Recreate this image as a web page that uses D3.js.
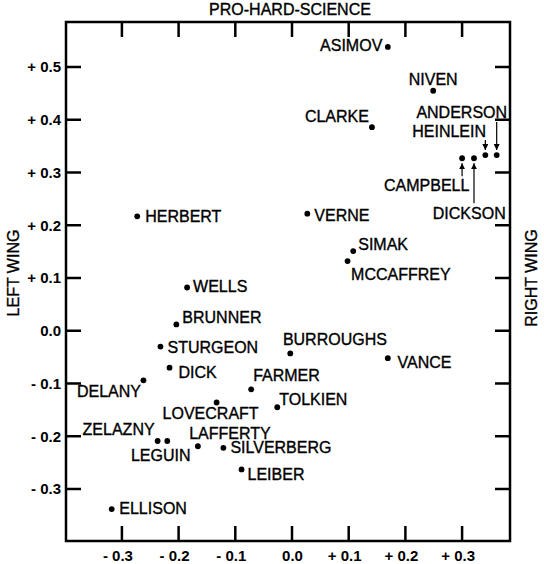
<!DOCTYPE html>
<html>
<head>
<meta charset="utf-8">
<script src="https://cdn.jsdelivr.net/npm/d3@7"></script>
<style>
   body { margin: 0; background: #fff; }
   svg { display: block; font-family: 'Liberation Sans', Arial, sans-serif; }
   .label { font-size: 16px; fill: #000; stroke: #000; stroke-width: 0.35px; }
   .tick text { font-size: 15px; font-weight: bold; fill: #000; }
</style>
</head>
<body>
<script>
   // data
   let authors = ['ASIMOV', 'NIVEN', 'CLARKE', 'ANDERSON', 'HEINLEIN', 'DICKSON', 'CAMPBELL',
                  'VERNE', 'HERBERT', 'SIMAK', 'MCCAFFREY', 'WELLS', 'BRUNNER', 'BURROUGHS',
                  'STURGEON', 'VANCE', 'DICK', 'DELANY', 'FARMER', 'LOVECRAFT', 'TOLKIEN',
                  'ZELAZNY', 'LEGUIN', 'LAFFERTY', 'SILVERBERG', 'LEIBER', 'ELLISON'];
   // left wing (-) to right wing (+)
   let politics = [0.169, 0.249, 0.141, 0.361, 0.341, 0.321, 0.300,
                   0.027, -0.273, 0.108, 0.098, -0.185, -0.204, -0.003,
                   -0.232, 0.169, -0.216, -0.262, -0.072, -0.133, -0.026,
                   -0.237, -0.220, -0.166, -0.121, -0.089, -0.318];
   // pro-hard-science axis
   let hardScience = [0.538, 0.455, 0.386, 0.333, 0.333, 0.327, 0.327,
                      0.222, 0.217, 0.151, 0.132, 0.082, 0.012, -0.043,
                      -0.030, -0.052, -0.070, -0.094, -0.111, -0.136, -0.145,
                      -0.209, -0.209, -0.219, -0.222, -0.263, -0.338];
   let xTicks = [-0.3, -0.2, -0.1, 0, 0.1, 0.2, 0.3];
   let xTickLabels = ['- 0.3', '- 0.2', '- 0.1', '0.0', '+ 0.1', '+ 0.2', '+ 0.3'];
   let yTicks = [-0.3, -0.2, -0.1, 0, 0.1, 0.2, 0.3, 0.4, 0.5];
   let yTickLabels = ['- 0.3', '- 0.2', '- 0.1', '0.0', '+ 0.1', '+ 0.2', '+ 0.3', '+ 0.4', '+ 0.5'];
   let arrowed = ['ANDERSON', 'HEINLEIN', 'DICKSON', 'CAMPBELL'];

   // label placement next to each dot: offset of text from dot, anchor
   let labelPos = {
      ASIMOV: [-5.5, 4, 'end'], NIVEN: [0, -6, 'middle'], CLARKE: [-3, -5.5, 'end'],
      ANDERSON: [10.4, -36.7, 'end'], HEINLEIN: [0.7, -18.3, 'end'],
      DICKSON: [31.7, 60.6, 'end'], CAMPBELL: [7.3, 32.3, 'end'],
      VERNE: [7, 7.7, 'start'], HERBERT: [8, 6, 'start'], SIMAK: [5, -1, 'start'],
      MCCAFFREY: [3.5, 19, 'start'], WELLS: [6, 5, 'start'], BRUNNER: [6, -1, 'start'],
      BURROUGHS: [-7.4, -8.3, 'start'], STURGEON: [7, 6, 'start'], VANCE: [9.7, 9.7, 'start'],
      DICK: [9, 10, 'start'], DELANY: [-2.5, 17, 'end'], FARMER: [2, -8.5, 'start'],
      LOVECRAFT: [-54, 17, 'start'], TOLKIEN: [2, -2.5, 'start'], ZELAZNY: [-3, -5.7, 'end'],
      LEGUIN: [-36.3, 20, 'start'], LAFFERTY: [-8.7, -7, 'start'], SILVERBERG: [7, 5.5, 'start'],
      LEIBER: [6, 10.7, 'start'], ELLISON: [7.6, 5.3, 'start']
   };
   // arrows: start and end (tip) offset in y from the dot
   let arrowPos = { ANDERSON: [-33, -5], HEINLEIN: [-15, -5], DICKSON: [45, 5], CAMPBELL: [18, 5] };

   let width = 544;
   let height = 564;
   let plotLeft = 66, plotRight = 510, plotTop = 22, plotBottom = 541;
   let tickLen = 15;

   let svg = d3.select('body').append('svg')
      .attr('width', width)
      .attr('height', height);

   let xScale = d3.scaleLinear().domain([-0.3986, 0.3845]).range([plotLeft, plotRight]);
   let yScale = d3.scaleLinear().domain([-0.3986, 0.5853]).range([plotBottom, plotTop]);

   let drawTickLabels = () => {
      let xAxis = d3.axisBottom(xScale)
         .tickValues(xTicks)
         .tickFormat((d, i) => xTickLabels[i])
         .tickSize(0).tickPadding(9);
      let yAxis = d3.axisLeft(yScale)
         .tickValues(yTicks)
         .tickFormat((d, i) => yTickLabels[i])
         .tickSize(0).tickPadding(5);

      let gx = svg.append('g').attr('transform', 'translate(0,' + plotBottom + ')').call(xAxis);
      // number part centred on the tick, sign hangs to the left
      gx.selectAll('.tick text').attr('dx', (d) => d === 0 ? 0 : -4.5);
      svg.append('g').attr('transform', 'translate(' + plotLeft + ',0)').call(yAxis);
      svg.selectAll('.domain').remove();
   }

   // inward tick marks on all four sides
   let drawTickMarks = () => {
      let addMark = (x1, y1, x2, y2) => {
         svg.append('line')
            .attr('x1', x1).attr('y1', y1)
            .attr('x2', x2).attr('y2', y2)
            .attr('stroke', '#000')
            .attr('stroke-width', 2.5);
      };
      xTicks.forEach((d) => {
         addMark(xScale(d), plotBottom, xScale(d), plotBottom - tickLen);
         addMark(xScale(d), plotTop, xScale(d), plotTop + tickLen);
      });
      yTicks.forEach((d) => {
         addMark(plotLeft, yScale(d), plotLeft + tickLen, yScale(d));
         addMark(plotRight, yScale(d), plotRight - tickLen, yScale(d));
      });
   }

   let drawLabels = () => {
      svg.append('g')
         .selectAll('text')
         .data(authors)
         .enter()
         .append('text')
         .attr('class', 'label')
         .attr('x', (d, i) => xScale(politics[i]) + labelPos[d][0])
         .attr('y', (d, i) => yScale(hardScience[i]) + labelPos[d][1])
         .attr('text-anchor', (d) => labelPos[d][2])
         .text((d) => d);
   }

   let drawArrows = () => {
      svg.append('defs').append('marker')
         .attr('id', 'head')
         .attr('viewBox', '0 0 6 6')
         .attr('refX', 6).attr('refY', 3)
         .attr('markerWidth', 6).attr('markerHeight', 6)
         .attr('markerUnits', 'userSpaceOnUse')
         .attr('orient', 'auto')
         .append('path').attr('d', 'M0,0 L6,3 L0,6 Z').attr('fill', '#000');

      arrowed.forEach((name) => {
         let i = authors.indexOf(name);
         let cx = xScale(politics[i]);
         let cy = yScale(hardScience[i]);
         svg.append('line')
            .attr('x1', cx).attr('x2', cx)
            .attr('y1', cy + arrowPos[name][0])
            .attr('y2', cy + arrowPos[name][1])
            .attr('stroke', '#000')
            .attr('stroke-width', 1.2)
            .attr('marker-end', 'url(#head)');
      });
   }

   let drawDots = () => {
      svg.selectAll('circle')
         .data(authors)
         .enter()
         .append('circle')
         .attr('cx', (d, i) => xScale(politics[i]))
         .attr('cy', (d, i) => yScale(hardScience[i]))
         .attr('r', 2.9)
         .attr('fill', '#000');
   }

   let drawFrameAndTitles = () => {
      svg.append('rect')
         .attr('x', plotLeft).attr('y', plotTop)
         .attr('width', plotRight - plotLeft).attr('height', plotBottom - plotTop)
         .attr('fill', 'none')
         .attr('stroke', '#000')
         .attr('stroke-width', 2.5);
      svg.append('text')
         .attr('class', 'label')
         .attr('x', 290).attr('y', 15)
         .attr('text-anchor', 'middle')
         .text('PRO-HARD-SCIENCE');
      svg.append('text')
         .attr('class', 'label')
         .attr('transform', 'translate(19,273) rotate(-90)')
         .attr('text-anchor', 'middle')
         .text('LEFT WING');
      svg.append('text')
         .attr('class', 'label')
         .attr('transform', 'translate(537,278) rotate(-90)')
         .attr('text-anchor', 'middle')
         .text('RIGHT WING');
   }

   drawTickLabels();
   drawLabels();
   drawArrows();
   drawDots();
   drawTickMarks();
   drawFrameAndTitles();
</script>
</body>
</html>
